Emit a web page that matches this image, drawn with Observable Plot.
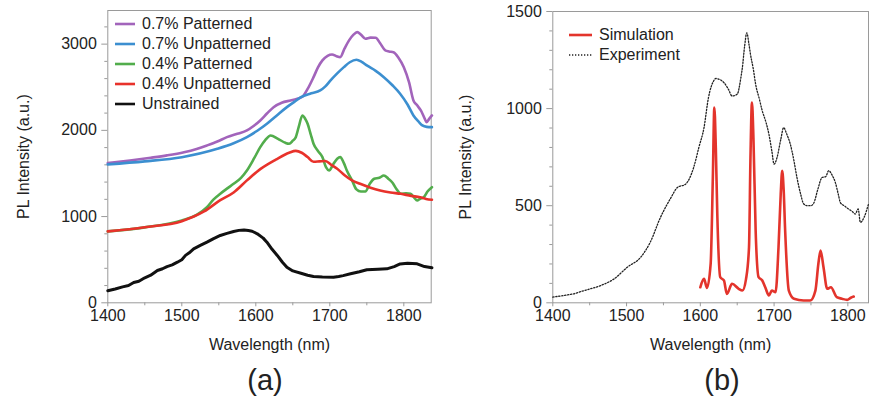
<!DOCTYPE html>
<html><head><meta charset="utf-8">
<script src="https://cdn.jsdelivr.net/npm/d3@7"></script>
<script src="https://cdn.jsdelivr.net/npm/@observablehq/plot@0.6"></script>
<style>
body{margin:0;background:#fff;font-family:"Liberation Sans",Arial,Helvetica,sans-serif;}
#wrap{position:relative;width:869px;height:402px;overflow:hidden;background:#fff;}
.panel{position:absolute;top:0;}
.cap{position:absolute;font-size:29px;color:#222;transform:translate(-50%,-50%);line-height:1;}
.leg{position:absolute;font-size:16px;color:#222;display:flex;align-items:center;white-space:nowrap;height:20px;}
.leg svg{margin-right:7px;}
</style></head>
<body><div id="wrap"></div>
<script>
// ---------- Panel (a) data: [wavelength nm, PL intensity a.u.] ----------
const seriesA = ["0.7% Patterned","0.7% Unpatterned","0.4% Patterned","0.4% Unpatterned","Unstrained"];
const colorsA = ["#a264bb","#3c8fd0","#52ad4c","#e8322b","#111111"];
const patterned07 = [[1400,1620],[1430,1650],[1458,1682],[1480,1710],[1503,1747],[1520,1785],[1534,1825],[1548,1870],[1561,1921],[1575,1960],[1588,1999],[1597,2050],[1606,2115],[1615,2195],[1624,2269],[1635,2320],[1647,2347],[1655,2365],[1663,2390],[1670,2480],[1678,2617],[1684,2730],[1690,2811],[1697,2865],[1703,2880],[1709,2860],[1714,2849],[1720,2950],[1726,3043],[1732,3110],[1737,3139],[1742,3110],[1748,3063],[1755,3075],[1762,3074],[1768,3010],[1775,2927],[1780,2915],[1786,2907],[1793,2840],[1800,2733],[1807,2560],[1813,2347],[1818,2290],[1823,2231],[1827,2160],[1831,2095],[1834,2130],[1838,2173]];
const unpatterned07 = [[1400,1605],[1450,1640],[1500,1689],[1548,1786],[1570,1850],[1588,1921],[1602,1995],[1615,2076],[1628,2170],[1642,2269],[1652,2330],[1661,2385],[1675,2430],[1687,2463],[1694,2510],[1701,2579],[1710,2660],[1719,2733],[1727,2790],[1736,2819],[1743,2795],[1750,2753],[1762,2690],[1773,2617],[1785,2520],[1795,2425],[1805,2300],[1813,2173],[1820,2100],[1825,2057],[1831,2040],[1838,2037]];
const patterned04 = [[1400,828],[1450,875],[1500,955],[1520,1020],[1534,1109],[1543,1200],[1552,1265],[1562,1330],[1570,1380],[1580,1450],[1588,1535],[1598,1680],[1606,1805],[1613,1890],[1620,1941],[1630,1902],[1640,1855],[1645,1845],[1650,1880],[1654,1921],[1658,2040],[1663,2173],[1667,2130],[1670,2076],[1674,1960],[1678,1845],[1684,1760],[1690,1689],[1695,1570],[1699,1535],[1705,1612],[1710,1670],[1714,1689],[1719,1620],[1723,1535],[1730,1420],[1736,1315],[1742,1290],[1748,1290],[1754,1380],[1760,1438],[1767,1450],[1773,1477],[1779,1440],[1785,1390],[1790,1320],[1796,1264],[1803,1270],[1809,1264],[1814,1220],[1818,1187],[1822,1206],[1827,1225],[1832,1290],[1838,1341]];
const unpatterned04 = [[1400,828],[1450,877],[1500,947],[1530,1059],[1552,1190],[1570,1280],[1588,1420],[1606,1550],[1627,1660],[1645,1740],[1654,1762],[1662,1740],[1670,1690],[1678,1635],[1686,1640],[1694,1645],[1702,1600],[1710,1555],[1720,1480],[1730,1420],[1741,1380],[1755,1335],[1768,1303],[1782,1280],[1796,1264],[1810,1240],[1822,1225],[1830,1205],[1838,1195]];
const unstrained = [[1400,140],[1410,160],[1420,185],[1428,200],[1435,235],[1442,250],[1450,290],[1458,320],[1467,375],[1474,395],[1480,420],[1487,440],[1494,471],[1500,500],[1505,550],[1510,580],[1516,626],[1525,665],[1534,703],[1543,745],[1552,781],[1561,805],[1570,827],[1577,840],[1584,845],[1590,838],[1595,830],[1602,800],[1610,750],[1615,703],[1622,620],[1629,549],[1636,470],[1642,413],[1650,370],[1661,343],[1670,320],[1678,305],[1690,300],[1705,297],[1712,305],[1718,315],[1728,336],[1740,360],[1750,383],[1765,390],[1777,394],[1787,420],[1795,450],[1805,460],[1818,452],[1828,420],[1838,406]];
const xTicks = [1400,1500,1600,1700,1800];
const xMinor = [1450,1550,1650,1750,1850];
const yTicksA = [0,1000,2000,3000];
const yMinorA = [200,400,600,800,1200,1400,1600,1800,2200,2400,2600,2800,3200];

// ---------- Panel (b) data ----------
const seriesB = ["Simulation","Experiment"];
const simulation = [[1600,80],[1605,123],[1609,77],[1614,200],[1617,650],[1619,1005],[1621,800],[1623,457],[1627,132],[1632,115],[1636,46],[1643,98],[1652,72],[1657,63],[1662,123],[1666,286],[1668,750],[1670,1031],[1672,850],[1675,372],[1679,132],[1684,115],[1688,80],[1693,38],[1697,63],[1702,55],[1706,286],[1709,560],[1711,680],[1713,580],[1715,372],[1720,63],[1727,21],[1740,12],[1749,12],[1756,63],[1760,200],[1763,269],[1767,183],[1772,72],[1777,80],[1785,29],[1792,21],[1799,15],[1804,26],[1808,32]];
const experiment = [[1400,29],[1415,38],[1428,46],[1440,60],[1451,72],[1465,89],[1483,123],[1501,183],[1519,234],[1532,311],[1546,440],[1560,540],[1569,594],[1580,611],[1591,697],[1598,800],[1605,902],[1611,1056],[1618,1142],[1621,1155],[1626,1150],[1632,1134],[1638,1100],[1643,1065],[1650,1074],[1655,1160],[1657,1211],[1660,1320],[1663,1390],[1666,1330],[1668,1280],[1672,1200],[1675,1125],[1680,1050],[1684,988],[1689,930],[1693,868],[1697,780],[1700,714],[1704,748],[1709,840],[1713,902],[1717,870],[1722,817],[1727,730],[1731,645],[1736,560],[1740,510],[1745,500],[1750,500],[1754,515],[1759,580],[1765,645],[1770,650],[1774,680],[1779,655],[1783,620],[1787,560],[1790,515],[1795,500],[1801,483],[1806,470],[1810,457],[1814,483],[1817,414],[1822,440],[1828,509]];
const yTicksB = [0,500,1000,1500];
const yMinorB = [100,200,300,400,600,700,800,900,1100,1200,1300,1400];

const FONT = '"Liberation Sans", Arial, Helvetica, sans-serif';
const AX = "#9a9a9a";
const wrap = document.getElementById("wrap");

function place(el, left, top) { el.style.left = left + "px"; el.style.top = top + "px"; wrap.appendChild(el); return el; }
const px = v => d => d[v];

// ---------- Panel (a) ----------
const linesA = [patterned07, unpatterned07, patterned04, unpatterned04, unstrained];
const plotA = Plot.plot({
  width: 440, height: 362,
  marginLeft: 107.3, marginRight: 9.3, marginTop: 10, marginBottom: 59.7,
  style: {fontFamily: FONT, fontSize: "16px", color: "#222", background: "transparent"},
  x: {domain: [1400, 1837]},
  y: {domain: [0, 3390]},
  marks: [
    Plot.frame({stroke: AX}),
    Plot.axisY({ticks: yMinorA, tickSize: 3, tickFormat: () => "", label: null, stroke: AX}),
    Plot.axisY({ticks: yTicksA, tickSize: 6, tickPadding: 5, tickFormat: d => String(d), stroke: AX, fill: "#222", fontSize: 16,
      label: "PL Intensity (a.u.)", labelArrow: "none", labelAnchor: "center", labelOffset: 90}),
    Plot.axisX({ticks: xMinor.filter(d => d < 1837), tickSize: 3, tickFormat: () => "", label: null, stroke: AX}),
    Plot.axisX({ticks: xTicks, tickSize: 4, tickPadding: 3, tickFormat: d => String(d), stroke: AX, fill: "#222", fontSize: 16,
      label: "Wavelength (nm)", labelArrow: "none", labelAnchor: "center", labelOffset: 47}),
    ...linesA.map((data, i) => Plot.line(data, {x: px(0), y: px(1), stroke: colorsA[i],
      strokeWidth: i === 4 ? 3 : 2.6, curve: i === 4 ? "linear" : "monotone-x"}))
  ]
});
const divA = document.createElement("div"); divA.className = "panel"; divA.appendChild(plotA); place(divA, 0, 0);

// legend (a)
seriesA.forEach((name, i) => {
  const row = document.createElement("div"); row.className = "leg";
  row.innerHTML = `<svg width="20" height="6"><line x1="0" x2="20" y1="3" y2="3" stroke="${colorsA[i]}" stroke-width="2.6"/></svg><span>${name}</span>`;
  place(row, 115, 14 + i * 20);
});

// ---------- Panel (b) ----------
const plotB = Plot.plot({
  width: 429, height: 362,
  marginLeft: 112.3, marginRight: 1, marginTop: 11, marginBottom: 59.7,
  style: {fontFamily: FONT, fontSize: "16px", color: "#222", background: "transparent"},
  x: {domain: [1400, 1828]},
  y: {domain: [0, 1500]},
  marks: [
    Plot.frame({stroke: AX}),
    Plot.axisY({ticks: yMinorB, tickSize: 3, tickFormat: () => "", label: null, stroke: AX}),
    Plot.axisY({ticks: yTicksB, tickSize: 6, tickPadding: 5, tickFormat: d => String(d), stroke: AX, fill: "#222", fontSize: 16,
      label: "PL Intensity (a.u.)", labelArrow: "none", labelAnchor: "center", labelOffset: 93}),
    Plot.axisX({ticks: xMinor.filter(d => d < 1828), tickSize: 3, tickFormat: () => "", label: null, stroke: AX}),
    Plot.axisX({ticks: xTicks, tickSize: 4, tickPadding: 3, tickFormat: d => String(d), stroke: AX, fill: "#222", fontSize: 16,
      label: "Wavelength (nm)", labelArrow: "none", labelAnchor: "center", labelOffset: 47}),
    Plot.line(experiment, {x: px(0), y: px(1), stroke: "#222", strokeWidth: 1.3, strokeDasharray: "1.3,1.7", curve: "monotone-x"}),
    Plot.line(simulation, {x: px(0), y: px(1), stroke: "#e3342c", strokeWidth: 2.6, curve: "monotone-x"})
  ]
});
const divB = document.createElement("div"); divB.className = "panel"; divB.appendChild(plotB); place(divB, 440, 0);

// legend (b)
const legStyleB = [{stroke: "#e3342c", w: 2.6, dash: ""}, {stroke: "#222", w: 1.3, dash: "1.3,1.7"}];
seriesB.forEach((name, i) => {
  const row = document.createElement("div"); row.className = "leg";
  row.innerHTML = `<svg width="23" height="6"><line x1="0" x2="23" y1="3" y2="3" stroke="${legStyleB[i].stroke}" stroke-width="${legStyleB[i].w}" stroke-dasharray="${legStyleB[i].dash}"/></svg><span>${name}</span>`;
  place(row, 569, 25 + i * 20);
});

// captions
const capA = document.createElement("div"); capA.className = "cap"; capA.textContent = "(a)"; place(capA, 265, 380);
const capB = document.createElement("div"); capB.className = "cap"; capB.textContent = "(b)"; place(capB, 722, 380);
</script></body></html>
